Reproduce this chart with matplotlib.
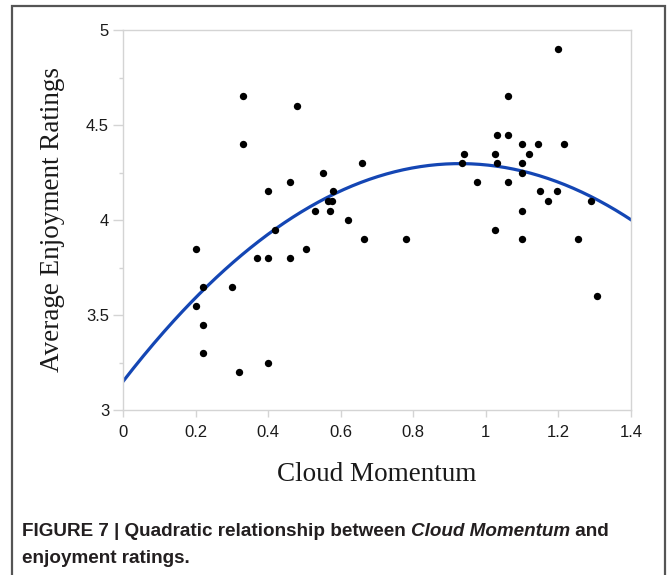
import matplotlib

matplotlib.use('Agg')
import matplotlib.pyplot as plt
import numpy as np
from matplotlib import font_manager
from matplotlib.patches import Rectangle
from matplotlib.ticker import MultipleLocator, FuncFormatter


# Cloud Momentum (x) and average enjoyment rating (y) per participant
momentum = [0.20, 0.22, 0.30, 0.37, 0.40, 0.46, 0.42, 0.505, 0.20, 0.22, 0.22, 0.40, 0.32,
            0.33, 0.48, 0.33, 0.55, 0.46, 0.40, 0.58, 0.565, 0.575, 0.53, 0.57, 0.62, 0.66, 0.665, 0.78,
            1.20, 1.06, 1.03, 1.06, 1.10, 1.145, 1.215, 0.94, 1.025, 1.12, 0.935, 1.03, 1.10, 1.10,
            0.975, 1.06, 1.15, 1.195, 1.17, 1.29, 1.10, 1.025, 1.10, 1.255, 1.305]
enjoyment = [3.85, 3.65, 3.65, 3.80, 3.80, 3.80, 3.95, 3.85, 3.55, 3.45, 3.30, 3.25, 3.20,
             4.65, 4.60, 4.40, 4.25, 4.20, 4.15, 4.15, 4.10, 4.10, 4.05, 4.05, 4.00, 4.30, 3.90, 3.90,
             4.90, 4.65, 4.45, 4.45, 4.40, 4.40, 4.40, 4.35, 4.35, 4.35, 4.30, 4.30, 4.30, 4.25,
             4.20, 4.20, 4.15, 4.15, 4.10, 4.10, 4.05, 3.95, 3.90, 3.90, 3.60]
# quadratic fit: c2*x^2 + c1*x + c0
fit_coef = [-1.33, 2.47, 3.15]

installed = {f.name for f in font_manager.fontManager.ttflist}
if 'Liberation Sans Narrow' in installed:
    cap_font, cap_size = 'Liberation Sans Narrow', 15.5
else:
    cap_font, cap_size = 'Liberation Sans', 13.6

fig = plt.figure(figsize=(6.7, 5.75), dpi=100)
ax = fig.add_axes([123 / 670, 1 - 410 / 575, 508 / 670, 380 / 575])

ax.scatter(momentum, enjoyment, s=28, color='black', zorder=3, linewidths=0)
xs = np.linspace(0, 1.4, 300)
ax.plot(xs, np.polyval(fit_coef, xs), color='#1446b4', lw=2.3, zorder=2)

ax.set_xlim(0, 1.4)
ax.set_ylim(3, 5)
ax.xaxis.set_major_locator(MultipleLocator(0.2))
ax.yaxis.set_major_locator(MultipleLocator(0.5))
ax.yaxis.set_minor_locator(MultipleLocator(0.25))
fmt = FuncFormatter(lambda v, p: '%g' % round(v, 2))
ax.xaxis.set_major_formatter(fmt)
ax.yaxis.set_major_formatter(fmt)

for s in ax.spines.values():
    s.set_color('#d4d4d4')
    s.set_linewidth(1.0)
ax.tick_params(axis='both', which='both', color='#d4d4d4', labelcolor='#1a1a1a',
               labelsize=12, width=1.0)
ax.tick_params(axis='y', which='major', length=7, pad=3)
ax.tick_params(axis='y', which='minor', length=3)
ax.tick_params(axis='x', which='major', length=5, pad=6)
for lab in ax.get_xticklabels() + ax.get_yticklabels():
    lab.set_family('Liberation Sans')

ax.set_xlabel('Cloud Momentum', family='Liberation Serif', fontsize=19.5, color='#1a1a1a')
ax.xaxis.set_label_coords(0.5, -0.137)
ax.set_ylabel('Average Enjoyment Ratings', family='Liberation Serif', fontsize=19.5, color='#1a1a1a')
ax.yaxis.set_label_coords(-0.114, 0.5)

# frame around the whole figure panel
fig.patches.append(Rectangle((12 / 670, -0.1), 653 / 670, 1.1 - 6 / 575, transform=fig.transFigure,
                             fill=False, edgecolor='#555555', lw=1.6))

# caption
cap = dict(family=cap_font, fontsize=cap_size, weight='bold', color='#231f20')
t1 = fig.text(22 / 670, 1 - 536 / 575, 'FIGURE 7 | Quadratic relationship between ', va='baseline', **cap)
t2 = fig.text(0, 0, 'Cloud Momentum', style='italic', va='baseline', **cap)
t3 = fig.text(0, 0, ' and', va='baseline', **cap)
fig.canvas.draw()
r = fig.canvas.get_renderer()
x2 = t1.get_window_extent(r).x1
t2.set_position((x2 / fig.bbox.width, 1 - 536 / 575))
fig.canvas.draw()
x3 = t2.get_window_extent(r).x1
t3.set_position((x3 / fig.bbox.width, 1 - 536 / 575))
fig.text(22 / 670, 1 - 563 / 575, 'enjoyment ratings.', va='baseline', **cap)

fig.savefig('out.png', dpi=100)
